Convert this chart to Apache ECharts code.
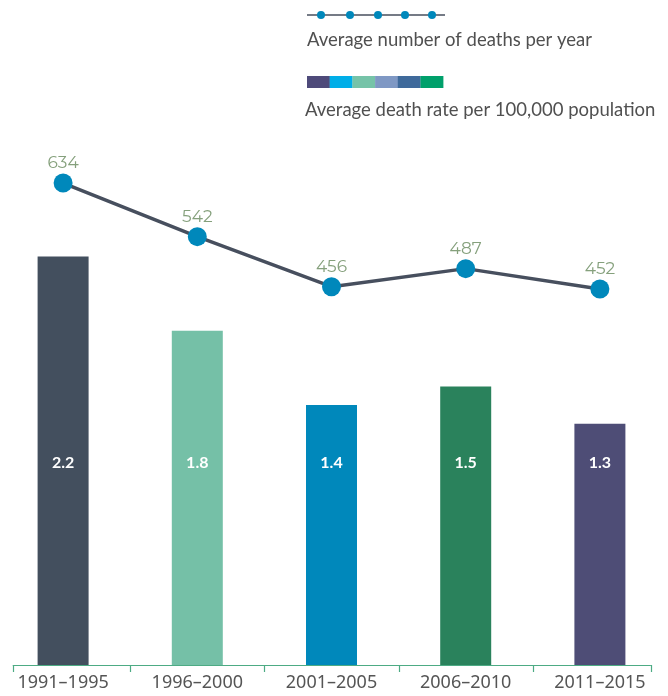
<!DOCTYPE html>
<html><head><meta charset="utf-8">
<script src="https://cdn.jsdelivr.net/npm/echarts@6/dist/echarts.min.js"></script>
<style>html,body{margin:0;padding:0;background:#fff;overflow:hidden;width:668px;height:696px}#c{position:absolute;left:-4px;top:0;width:672px;height:696px}</style>
</head><body><div id="c"></div>
<script>
const categories = ['1991–1995','1996–2000','2001–2005','2006–2010','2011–2015'];
const deathRate = [2.2, 1.8, 1.4, 1.5, 1.3];
const deathsPerYear = [634, 542, 456, 487, 452];
const barColors = ['#434f5e','#75c0a7','#0088bb','#2a825c','#4e4d76'];
const legendSwatch = ['#4e4a7a','#00aee8','#76c3a8','#7f98c4','#3f6a9b','#00a06b'];
const legendLine = 'Average number of deaths per year';
const legendBar = 'Average death rate per 100,000 population';

const OX = 4; // container offset
const chart = echarts.init(document.getElementById('c'));
const graphics = [];
graphics.push({type:'line', shape:{x1:307+OX,y1:15,x2:445+OX,y2:15}, style:{stroke:'#474f5e', lineWidth:1.5}});
[321,350,378,405,432].forEach(x=>graphics.push({type:'circle', shape:{cx:x+OX,cy:15,r:4}, style:{fill:'#0088bb'}}));
graphics.push({type:'text', left:307+OX, top:31, style:{text:legendLine, fill:'#505050', font:'18.5px Lato'}});
legendSwatch.forEach((c,i)=>graphics.push({type:'rect', shape:{x:307+OX+i*22.7,y:76,width:22.9,height:12}, style:{fill:c}}));
graphics.push({type:'text', left:305+OX, top:101, style:{text:legendBar, fill:'#505050', font:'18.5px Lato'}});

const axisColor = '#4dab84';
chart.setOption({
  animation:false,
  graphic: graphics,
  grid:{left:0, right:1, top:108, bottom:31, containLabel:false},
  xAxis:{type:'category', data:categories,
    axisLine:{show:false},
    axisTick:{show:false},
    axisLabel:{color:'#555', fontSize:18, fontFamily:'Noto Sans', margin:9}},
  yAxis:[
    {type:'value', min:0, max:3, show:false, splitLine:{show:false}},
    {type:'value', min:-194, max:763, show:false, splitLine:{show:false}}
  ],
  series:[
    {type:'bar', data:deathRate.map((v,i)=>({value:v, itemStyle:{color:barColors[i]}})), barWidth:51, yAxisIndex:0,
     label:{show:true, position:'insideBottom', distance:194, color:'#fff', fontWeight:'bold', fontSize:16, fontFamily:'Lato'}},
    {type:'line', data:deathsPerYear, yAxisIndex:1, symbol:'circle', symbolSize:19,
     lineStyle:{color:'#474f5e', width:3.5}, itemStyle:{color:'#0088bb'},
     label:{show:true, position:'top', distance:2, color:'#85a07c', fontSize:17, fontFamily:'Montserrat, Lato, sans-serif'}}
  ]
});

// axis baseline and ticks derived from the category scale
const y0 = chart.convertToPixel({yAxisIndex:0}, 0);
const centers = categories.map(c => chart.convertToPixel({xAxisIndex:0}, c));
const bounds = [];
for (let i=0;i<centers.length-1;i++) bounds.push((centers[i]+centers[i+1])/2);
const step = centers[1]-centers[0];
const xStart = centers[0] - step*0.375, xEnd = centers[centers.length-1] + step*0.38;
const axisG = [{type:'line', shape:{x1:xStart,y1:y0+0.5,x2:xEnd,y2:y0+0.5}, style:{stroke:axisColor, lineWidth:1.2}}];
[xStart, ...bounds, xEnd].forEach(x=>axisG.push({type:'line', shape:{x1:Math.round(x)+0.5,y1:y0,x2:Math.round(x)+0.5,y2:y0+7}, style:{stroke:axisColor, lineWidth:1.2}}));
chart.setOption({graphic: graphics.concat(axisG)});
</script></body></html>
